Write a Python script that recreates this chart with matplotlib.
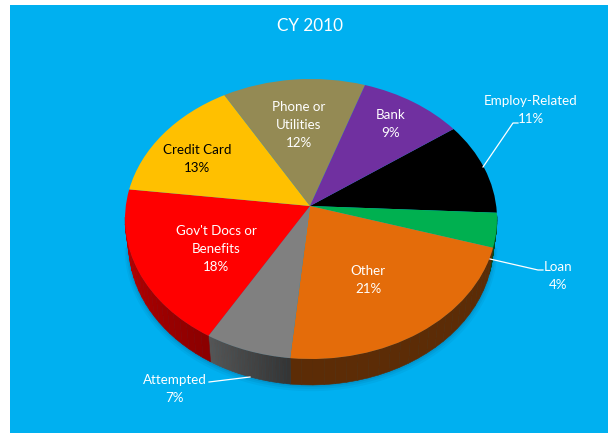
import numpy as np
import matplotlib
matplotlib.use("Agg")
import matplotlib.pyplot as plt
from matplotlib.patches import Rectangle

# Shares, clockwise from Employ-Related
categories = ["Employ-Related", "Loan", "Other", "Attempted",
              "Gov't Docs or\nBenefits", "Credit Card", "Phone or\nUtilities", "Bank"]
shares = [10.4, 4.0, 23.5, 7.5, 19.1, 13.9, 12.4, 9.2]
percent_labels = [11, 4, 21, 7, 18, 13, 12, 9]
colors = ["#000000", "#00b050", "#e46c0a", "#808080",
          "#ff0000", "#ffc000", "#948a54", "#7030a0"]
# side wall colour, left end and right end of each slice
wall_left = ["#000000", "#004d20", "#5c2c06", "#555555",
             "#c80000", "#7f6000", "#4a452a", "#3a1a55"]
wall_right = ["#000000", "#004d20", "#5c2c06", "#353535",
              "#8b0000", "#7f6000", "#4a452a", "#3a1a55"]
text_colors = ["white", "white", "white", "white", "white", "black", "white", "white"]
label_pos = [(531, 110), (558, 276), (368, 280), (175, 389),
             (216, 249), (197, 159), (299, 125), (391, 124)]
title = "CY 2010"

W, H = 608, 433
START = 40
# ellipse of the pie top, in pixels
CX, CY, RX, RY = 311, 219, 186, 140
APEX = ((310 - CX) / RX, (CY - 206) / RY)
DEPTH = 26 / RY
# the bottom rim is a little narrower than the top
BOTTOM_X = 0.98

plt.rcParams['font.family'] = ['Lato', 'DejaVu Sans']
fig = plt.figure(figsize=(W / 100, H / 100), dpi=100, facecolor="white")

# blue panel
ax_bg = fig.add_axes([0, 0, 1, 1], zorder=0)
ax_bg.set_xlim(0, W)
ax_bg.set_ylim(H, 0)
ax_bg.axis("off")
ax_bg.add_patch(Rectangle((10, 5), W - 10, H - 5, color="#00b0f0", lw=0))

ax = fig.add_axes([(CX - RX) / W, 1 - (CY + RY) / H, 2 * RX / W, 2 * RY / H], zorder=1)
wedges, _ = ax.pie(shares, colors=colors, startangle=START, counterclock=False,
                   radius=1, wedgeprops={"clip_on": False, "linewidth": 0, "zorder": 3})
ax.set_aspect("auto")
ax.set_xlim(-1, 1)
ax.set_ylim(-1, 1)
ax.axis("off")

# the apex of the pie sits above the ellipse centre
for w in wedges:
    v = w.get_path().vertices
    v[np.all(np.isclose(v, 0), axis=1)] = APEX

# soft shadow under the rim
for grow, alpha in zip([0.022, 0.014, 0.007], [0.06, 0.08, 0.10]):
    t = np.radians(np.linspace(180, 360, 120))
    ax.fill(np.cos(t) * (BOTTOM_X + grow), np.sin(t) * (1 + grow) - DEPTH - grow,
            color="#003a60", alpha=alpha, lw=0, clip_on=False, zorder=1)

# side wall, front half only
a = START
for share, c0, c1 in zip(shares, wall_left, wall_right):
    b = a - share * 3.6
    steps = np.linspace(b, a, 25)
    rgb0, rgb1 = np.array(matplotlib.colors.to_rgb(c0)), np.array(matplotlib.colors.to_rgb(c1))
    for i in range(24):
        mid = np.radians((steps[i] + steps[i + 1]) / 2)
        if np.sin(mid) > 0.02:
            continue
        t = np.radians(steps[i:i + 2])
        frac = i / 23
        col = rgb0 + (rgb1 - rgb0) * frac
        ax.fill(np.r_[np.cos(t), BOTTOM_X * np.cos(t[::-1])],
                np.r_[np.sin(t), np.sin(t[::-1]) - DEPTH],
                color=col, lw=0.4, clip_on=False, zorder=2)
    a = b

# labels and leader lines go on top of the pie
ax_txt = fig.add_axes([0, 0, 1, 1], zorder=2)
ax_txt.set_xlim(0, W)
ax_txt.set_ylim(H, 0)
ax_txt.axis("off")
ax_txt.patch.set_visible(False)

for name, pct, (x, y), tc in zip(categories, percent_labels, label_pos, text_colors):
    ax_txt.text(x, y, f"{name}\n{pct}%", color=tc, fontsize=9.6, ha="center", va="center",
                linespacing=1.6)
ax_txt.text(310, 26, title, color="white", fontsize=12.3, ha="center", va="center")

ax_txt.plot([483, 513, 518], [167, 123, 123], color="white", lw=0.9)
ax_txt.plot([490, 538, 543], [259, 270, 270], color="white", lw=0.9)
ax_txt.plot([209, 250], [382, 377], color="white", lw=0.9)

fig.savefig("out.png", dpi=100, facecolor="white")
